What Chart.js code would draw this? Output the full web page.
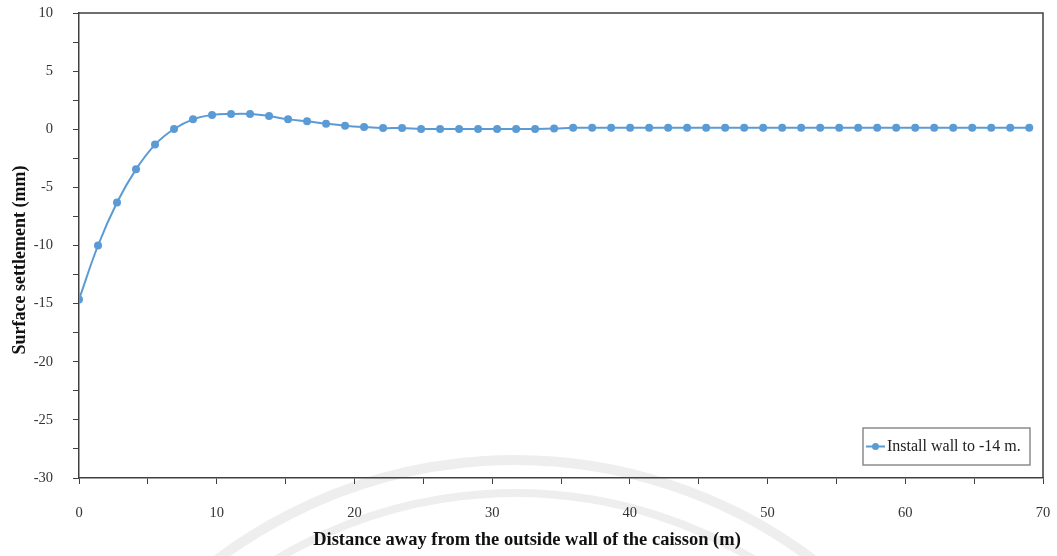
<!DOCTYPE html>
<html>
<head>
<meta charset="utf-8">
<script src="https://cdn.jsdelivr.net/npm/chart.js@4/dist/chart.umd.min.js"></script>
<style>
  html, body { margin: 0; padding: 0; background: #fff; }
  #wrap { width: 1057px; height: 556px; position: relative; }
</style>
</head>
<body>
<div id="wrap"><canvas id="settle"></canvas></div>
<script>
/* ── Data ── */
const DISTANCE = [
  0, 1.38, 2.76, 4.14, 5.52, 6.9, 8.28, 9.66, 11.04, 12.42,
  13.8, 15.18, 16.56, 17.94, 19.32, 20.7, 22.08, 23.46, 24.84, 26.22,
  27.6, 28.98, 30.36, 31.74, 33.12, 34.5, 35.88, 37.26, 38.64, 40.02,
  41.4, 42.78, 44.16, 45.54, 46.92, 48.3, 49.68, 51.06, 52.44, 53.82,
  55.2, 56.58, 57.96, 59.34, 60.72, 62.1, 63.48, 64.86, 66.24, 67.62, 69.0,
];
const SETTLEMENT = [
  -14.65, -10.0, -6.3, -3.45, -1.32, 0.02, 0.85, 1.22, 1.31, 1.31,
  1.14, 0.85, 0.68, 0.48, 0.31, 0.19, 0.1, 0.1, 0.03, 0.02,
  0.02, 0.02, 0.02, 0.02, 0.03, 0.06, 0.12, 0.13, 0.13, 0.13,
  0.13, 0.13, 0.13, 0.13, 0.13, 0.13, 0.13, 0.13, 0.13, 0.13,
  0.13, 0.13, 0.13, 0.13, 0.13, 0.13, 0.13, 0.13, 0.13, 0.13, 0.13,
];
const SERIES_LABEL = 'Install wall to -14 m.';
const X_TITLE = 'Distance away from the outside wall of the caisson (m)';
const Y_TITLE = 'Surface settlement (mm)';

const BLUE  = '#5b9bd5';
const AXIS  = '#404040';
const SERIF = "'Liberation Serif', 'Times New Roman', serif";

/* ── Frame, titles and legend ── */
const framePlugin = {
  id: 'frame',
  beforeDraw(chart) {
    const ctx = chart.ctx;
    ctx.save();
    ctx.fillStyle = '#fff';
    ctx.fillRect(0, 0, chart.width, chart.height);
    // faint watermark arcs behind the page
    ctx.strokeStyle = '#eeeeee';
    ctx.lineWidth = 10;
    ctx.beginPath();
    ctx.arc(515, 955, 495, Math.PI * 1.1, Math.PI * 1.9);
    ctx.stroke();
    ctx.lineWidth = 8;
    ctx.beginPath();
    ctx.arc(515, 955, 462, Math.PI * 1.1, Math.PI * 1.9);
    ctx.stroke();
    ctx.restore();
  },
  afterDraw(chart) {
    const { ctx, chartArea: a } = chart;
    ctx.save();
    // top + right border
    ctx.strokeStyle = AXIS;
    ctx.lineWidth = 1.5;
    ctx.beginPath();
    ctx.moveTo(a.left, a.top);
    ctx.lineTo(a.right, a.top);
    ctx.lineTo(a.right, a.bottom);
    ctx.stroke();

    // axis titles
    ctx.fillStyle = '#111';
    ctx.textAlign = 'center';
    ctx.textBaseline = 'middle';
    ctx.font = 'bold 18.5px ' + SERIF;
    ctx.fillText(X_TITLE, 527, 540);
    ctx.font = 'bold 18px ' + SERIF;
    ctx.translate(20, 260);
    ctx.rotate(-Math.PI / 2);
    ctx.fillText(Y_TITLE, 0, 0);
    ctx.restore();

    // legend box
    ctx.save();
    const bx = 863, by = 428, bw = 167, bh = 37;
    ctx.fillStyle = '#fff';
    ctx.fillRect(bx, by, bw, bh);
    ctx.strokeStyle = '#8c8c8c';
    ctx.lineWidth = 1.5;
    ctx.strokeRect(bx, by, bw, bh);
    const my = by + bh / 2;
    ctx.strokeStyle = BLUE;
    ctx.lineWidth = 2;
    ctx.beginPath();
    ctx.moveTo(866, my);
    ctx.lineTo(885, my);
    ctx.stroke();
    ctx.fillStyle = BLUE;
    ctx.beginPath();
    ctx.arc(875.5, my, 3.5, 0, Math.PI * 2);
    ctx.fill();
    ctx.fillStyle = '#222';
    ctx.font = '16px ' + SERIF;
    ctx.textAlign = 'left';
    ctx.textBaseline = 'middle';
    ctx.fillText(SERIES_LABEL, 887, my);
    ctx.restore();
  },
};

/* ── Chart ── */
new Chart(document.getElementById('settle'), {
  type: 'line',
  data: {
    datasets: [{
      label: SERIES_LABEL,
      data: DISTANCE.map((x, i) => ({ x, y: SETTLEMENT[i] })),
      borderColor: BLUE,
      backgroundColor: BLUE,
      borderWidth: 2,
      pointRadius: 4,
      pointHoverRadius: 4,
      pointBorderWidth: 0,
      tension: 0.4,
      fill: false,
    }],
  },
  options: {
    responsive: true, maintainAspectRatio: false, animation: false,
    layout: { padding: { left: 0, top: 13, right: 14, bottom: 0 } },
    plugins: { legend: { display: false }, tooltip: { enabled: false } },
    scales: {
      x: {
        type: 'linear', min: 0, max: 70,
        afterFit: s => { s.height = 78; s.paddingLeft = 0; s.paddingRight = 0; },
        border: { display: true, color: AXIS, width: 1.5 },
        grid: { drawOnChartArea: false, drawTicks: true, tickLength: 6, color: AXIS },
        ticks: {
          stepSize: 5, padding: 20, color: '#333', maxRotation: 0, autoSkip: false,
          font: { family: SERIF, size: 14.5 },
          callback: v => (v % 10 === 0 ? v : ''),
        },
      },
      y: {
        min: -30, max: 10,
        afterFit: s => { s.width = 79; s.paddingTop = 0; s.paddingBottom = 0; },
        border: { display: true, color: AXIS, width: 1.5 },
        grid: { drawOnChartArea: false, drawTicks: true, tickLength: 6, color: AXIS },
        ticks: {
          stepSize: 2.5, padding: 20, color: '#333', autoSkip: false,
          font: { family: SERIF, size: 14.5 },
          callback: v => (v % 5 === 0 ? v : ''),
        },
      },
    },
  },
  plugins: [framePlugin],
});
</script>
</body>
</html>
